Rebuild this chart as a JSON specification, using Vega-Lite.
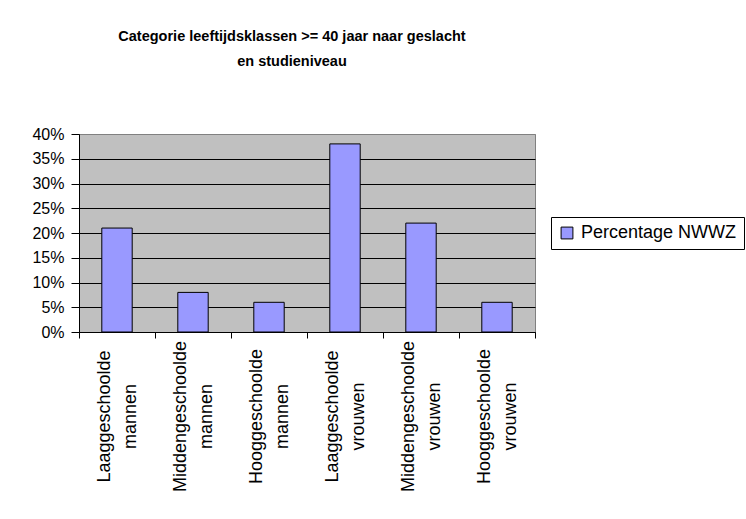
{
  "$schema": "https://vega.github.io/schema/vega-lite/v6.json",
  "autosize": {"type": "none"},
  "padding": {"left": 79, "top": 134, "right": 211, "bottom": 187},
  "width": 456,
  "height": 198,
  "background": "white",
  "title": {
    "text": ["Categorie leeftijdsklassen >= 40 jaar naar geslacht", "en studieniveau"],
    "fontSize": 14.5,
    "fontWeight": "bold",
    "font": "Liberation Sans",
    "color": "black",
    "lineHeight": 25,
    "anchor": "middle",
    "dx": -15,
    "offset": 57
  },
  "data": {
    "values": [
      {"cat": "Laaggeschoolde mannen", "pct": 0.21, "serie": "Percentage NWWZ"},
      {"cat": "Middengeschoolde mannen", "pct": 0.08, "serie": "Percentage NWWZ"},
      {"cat": "Hooggeschoolde mannen", "pct": 0.06, "serie": "Percentage NWWZ"},
      {"cat": "Laaggeschoolde vrouwen", "pct": 0.38, "serie": "Percentage NWWZ"},
      {"cat": "Middengeschoolde vrouwen", "pct": 0.22, "serie": "Percentage NWWZ"},
      {"cat": "Hooggeschoolde vrouwen", "pct": 0.06, "serie": "Percentage NWWZ"}
    ]
  },
  "mark": {"type": "bar", "width": {"band": 0.4}, "stroke": "black", "strokeWidth": 1},
  "encoding": {
    "x": {
      "field": "cat",
      "type": "nominal",
      "sort": null,
      "title": null,
      "scale": {"paddingInner": 0, "paddingOuter": 0},
      "axis": {
        "tickBand": "extent",
        "domainColor": "black",
        "tickColor": "black",
        "tickSize": 6,
        "labelAngle": -90,
        "labelAlign": "center",
        "labelBaseline": "middle",
        "labelPadding": 78,
        "labelOffset": -13,
        "labelFontSize": 18,
        "labelLineHeight": 26,
        "labelColor": "black",
        "labelFont": "Liberation Sans",
        "labelLimit": 400,
        "labelOverlap": false,
        "labelExpr": "split(datum.label, ' ')"
      }
    },
    "y": {
      "field": "pct",
      "type": "quantitative",
      "title": null,
      "scale": {"domain": [0, 0.4], "nice": false},
      "axis": {
        "values": [0, 0.05, 0.1, 0.15, 0.2, 0.25, 0.3, 0.35, 0.4],
        "format": ".0%",
        "domainColor": "black",
        "tickColor": "black",
        "tickSize": 8,
        "labelPadding": 7,
        "labelFontSize": 16,
        "labelColor": "black",
        "labelFont": "Liberation Sans",
        "grid": true,
        "gridColor": {"condition": {"test": "datum.value >= 0.4", "value": "#808080"}, "value": "black"},
        "gridOpacity": 1,
        "gridWidth": 1
      }
    },
    "color": {
      "field": "serie",
      "type": "nominal",
      "scale": {"range": ["#9999FF"]},
      "legend": {
        "title": null,
        "orient": "none",
        "legendX": 472,
        "legendY": 83,
        "strokeColor": "black",
        "fillColor": "white",
        "padding": 7,
        "symbolType": "square",
        "symbolSize": 140,
        "symbolStrokeColor": "black",
        "symbolStrokeWidth": 1,
        "symbolOpacity": 1,
        "labelFontSize": 18,
        "labelColor": "black",
        "labelFont": "Liberation Sans",
        "labelOffset": 5,
        "labelLimit": 300
      }
    }
  },
  "config": {
    "font": "Liberation Sans",
    "view": {"fill": "#C0C0C0", "stroke": "#808080", "strokeWidth": 1}
  }
}
